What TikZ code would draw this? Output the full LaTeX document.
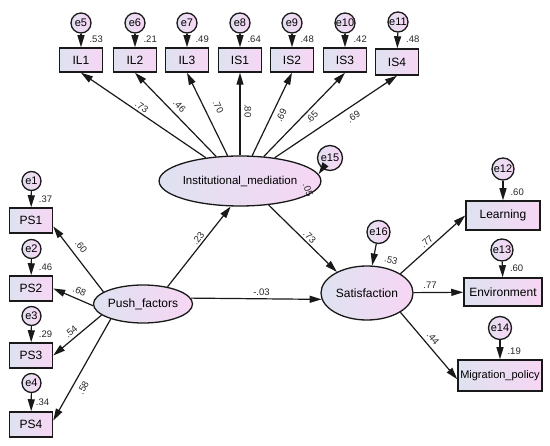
\documentclass[tikz,border=0pt]{standalone}
\usepackage{fontspec}
\setmainfont{Liberation Sans}
\usetikzlibrary{arrows.meta,shapes.geometric}

\definecolor{fillleft}{RGB}{222,226,240}
\definecolor{fillright}{RGB}{247,214,244}
\definecolor{inkline}{RGB}{25,25,25}

\tikzset{
  obs/.style={draw=inkline, line width=1.5pt, left color=fillleft, right color=fillright,
    minimum width=43pt, minimum height=24pt, inner sep=0pt, font=\fontsize{12}{12}\selectfont},
  lat/.style={ellipse, draw=inkline, line width=1.3pt, left color=fillleft, right color=fillright,
    inner sep=0pt, font=\fontsize{12}{12}\selectfont},
  err/.style={circle, draw=inkline, line width=1.3pt, left color=fillleft!80!fillright, right color=fillright,
    minimum size=20pt, inner sep=0pt, font=\fontsize{11}{11}\selectfont},
  coef/.style={font=\fontsize{9.5}{9.5}\selectfont, inner sep=1pt, text=black!85},
  link/.style={->, line width=1.2pt, draw=inkline},
}

\begin{document}
\begin{tikzpicture}[x=1pt, y=-1pt, >={Triangle[length=12pt,width=7pt]}]
  \useasboundingbox (0,0) rectangle (550,446);

  % latent variables
  \node[lat, minimum width=122pt, minimum height=50pt, font=\fontsize{11.5}{11.5}\selectfont] (IM) at (240,181) {Institutional\_mediation};
  \node[lat, minimum width=80pt, minimum height=38pt] (PF) at (143,304) {Push\_factors};
  \node[lat, minimum width=92pt, minimum height=54pt] (Sat) at (367,293) {Satisfaction};

  % top indicators
  \node[obs] (IL1) at (81,60) {IL1};
  \node[obs] (IL2) at (135,60) {IL2};
  \node[obs] (IL3) at (187,60) {IL3};
  \node[obs] (IS1) at (240,60) {IS1};
  \node[obs] (IS2) at (292,60) {IS2};
  \node[obs] (IS3) at (345,60) {IS3};
  \node[obs, minimum height=26pt] (IS4) at (397,62) {IS4};

  \node[err] (e5) at (81,23) {e5};
  \node[err] (e6) at (135,23) {e6};
  \node[err] (e7) at (187,23) {e7};
  \node[err] (e8) at (240,23) {e8};
  \node[err] (e9) at (292,23) {e9};
  \node[err] (e10) at (345,23) {e10};
  \node[err] (e11) at (398,22) {e11};

  \draw[link] (e5) -- (IL1) node[coef, pos=0.4, right=7pt] {.53};
  \draw[link] (e6) -- (IL2) node[coef, pos=0.4, right=7pt] {.21};
  \draw[link] (e7) -- (IL3) node[coef, pos=0.4, right=7pt] {.49};
  \draw[link] (e8) -- (IS1) node[coef, pos=0.4, right=6pt] {.64};
  \draw[link] (e9) -- (IS2) node[coef, pos=0.4, right=7pt] {.48};
  \draw[link] (e10) -- (IS3) node[coef, pos=0.4, right=7pt] {.42};
  \draw[link] (e11) -- (IS4) node[coef, pos=0.45, right=7pt] {.48};

  \draw[link] (IM) -- (IL1.south) node[coef, sloped, pos=0.54, above=1pt] {.73};
  \draw[link] (IM) -- (IL2.south) node[coef, sloped, pos=0.53, above=4pt] {.46};
  \draw[link] (IM) -- (IL3.south) node[coef, sloped, pos=0.52, above=8pt] {.70};
  \draw[link, <-] (IS1.south) -- (IM) node[coef, sloped, pos=0.46, above=3pt] {.80};
  \draw[link] (IM) -- (IS2.south) node[coef, sloped, pos=0.53, below=4pt] {.69};
  \draw[link] (IM) -- (IS3.south) node[coef, sloped, pos=0.53, below=2pt] {.65};
  \draw[link] (IM) -- (IS4.south) node[coef, sloped, pos=0.6, below=5pt] {.69};

  % left indicators
  \node[obs, minimum height=25pt] (PS1) at (31,220.5) {PS1};
  \node[obs, minimum height=25pt] (PS2) at (31,288.5) {PS2};
  \node[obs, minimum height=25pt] (PS3) at (31,355.5) {PS3};
  \node[obs, minimum height=25pt] (PS4) at (31,424.5) {PS4};

  \node[err, minimum size=19pt] (e1) at (31.5,181) {e1};
  \node[err, minimum size=19pt] (e2) at (31.5,249) {e2};
  \node[err, minimum size=19pt] (e3) at (31.5,316) {e3};
  \node[err, minimum size=19pt] (e4) at (31.5,383) {e4};

  \draw[link] (e1) -- (PS1) node[coef, pos=0.5, right=6pt] {.37};
  \draw[link] (e2) -- (PS2) node[coef, pos=0.5, right=6pt] {.46};
  \draw[link] (e3) -- (PS3) node[coef, pos=0.5, right=6pt] {.29};
  \draw[link] (e4) -- (PS4) node[coef, pos=0.5, right=3pt] {.34};

  \draw[link] (PF.163) -- (PS1.-15) node[coef, sloped, pos=0.6, above=5pt] {.60};
  \draw[link] (PF.182) -- (PS2.east) node[coef, sloped, pos=0.42, above=3pt] {.68};
  \draw[link] (PF.195) -- (PS3.east) node[coef, sloped, pos=0.54, above=2pt] {.54};
  \draw[link] (PF.205) -- (PS4.10) node[coef, sloped, pos=0.63, below=5pt] {.58};

  % structural part
  \node[err, minimum size=25pt] (e15) at (330,158) {e15};
  \node[err, minimum size=23pt] (e16) at (378.5,232) {e16};
  \draw[link] (e15) -- (IM.5);
  \draw[link] (e16) -- (Sat);
  \node[coef, rotate=-70] (r15) at (308,190) {.05};
  \node[coef, rotate=-15] (r16) at (391,260) {.53};

  \draw[link] (PF.35) -- (IM.-110) node[coef, sloped, pos=0.56, above=1pt] {.23};
  \draw[link] (PF.7) -- (Sat.188) node[coef, pos=0.54, above=2pt] {-.03};
  \draw[link] (IM.-40) -- (Sat.145) node[coef, sloped, pos=0.54, above=1pt] {.73};

  % right indicators
  \node[obs, minimum width=74pt, minimum height=29pt] (Learn) at (503,215.5) {Learning};
  \node[obs, minimum width=78pt, minimum height=28pt] (Env) at (503,292) {Environment};
  \node[obs, minimum width=84pt, minimum height=31pt, font=\fontsize{11}{11}\selectfont] (Mig) at (500,375.5) {Migration\_policy};

  \node[err, minimum size=22pt] (e12) at (503,169) {e12};
  \node[err, minimum size=22pt] (e13) at (502,250) {e13};
  \node[err, minimum size=23pt] (e14) at (500,328) {e14};

  \draw[link] (e12) -- (Learn) node[coef, pos=0.58, right=6pt] {.60};
  \draw[link] (e13) -- (Env) node[coef, pos=0.43, right=6pt] {.60};
  \draw[link] (e14) -- (Mig) node[coef, pos=0.56, right=6pt] {.19};

  \draw[link] (Sat.30) -- (Learn.west) node[coef, sloped, pos=0.47, above=1.5pt] {.77};
  \draw[link] (Sat) -- (Env) node[coef, pos=0.33, above=2pt] {.77};
  \draw[link] (Sat.-30) -- (Mig.185) node[coef, sloped, pos=0.47, above=3pt] {.44};
\end{tikzpicture}
\end{document}
